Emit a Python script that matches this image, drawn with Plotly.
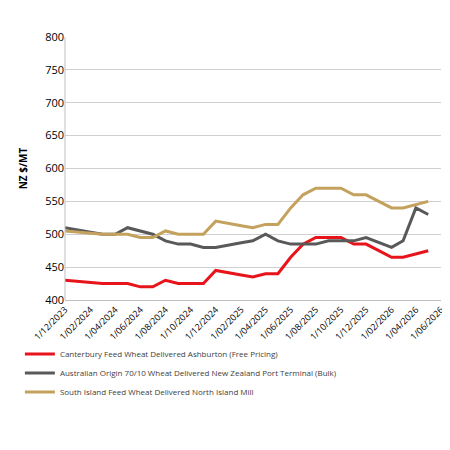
import pandas as pd
import plotly.graph_objs as go

dates = pd.date_range("2023-12-01", periods=30, freq="MS")

canterbury = [430, 428, 427, 425, 425, 425, 420, 420, 430, 425, 425, 425, 445, 442, 438,
              435, 440, 440, 465, 485, 495, 495, 495, 485, 485, 475, 465, 465, 470, 475]
australian = [510, 507, 503, 500, 500, 510, 505, 500, 490, 485, 485, 480, 480, 483, 487,
              490, 500, 490, 485, 485, 485, 490, 490, 490, 495, 487, 480, 490, 540, 530]
south_island = [505, 503, 502, 500, 500, 500, 495, 495, 505, 500, 500, 500, 520, 517, 513,
                510, 515, 515, 540, 560, 570, 570, 570, 560, 560, 550, 540, 540, 545, 550]

series = [
    ("Canterbury Feed Wheat Delivered Ashburton (Free Pricing)", canterbury, "#e8141b"),
    ("Australian Origin 70/10 Wheat Delivered New Zealand Port Terminal (Bulk)", australian, "#595959"),
    ("South Island Feed Wheat Delivered North Island Mill", south_island, "#c4a25e"),
]

tick_dates = pd.date_range("2023-12-01", "2026-06-01", freq="2MS")
tick_text = [f"{d.day}/{d.month:02d}/{d.year}" for d in tick_dates]

fig = go.Figure()
for name, values, color in series:
    fig.add_trace(go.Scatter(x=dates, y=values, mode="lines", name=name,
                             line=dict(color=color, width=3)))

fig.update_layout(
    width=450, height=450,
    template="plotly_white",
    font=dict(family="Open Sans, Arial", size=10, color="#404040"),
    margin=dict(l=51, r=12, t=29, b=158),
    showlegend=True,
    legend=dict(orientation="v", x=-0.12, y=-0.15, xanchor="left", yanchor="top",
                font=dict(size=8), tracegroupgap=22),
    yaxis=dict(title=dict(text="<b>NZ $/MT</b>", font=dict(size=10, color="#000")),
               range=[400, 800], dtick=50, gridcolor="#d0d0d0", showline=False,
               zeroline=False, ticks="", tickfont=dict(color="#000", size=11)),
    xaxis=dict(range=[dates[0], pd.Timestamp("2026-06-01")], tickvals=tick_dates,
               ticktext=tick_text, tickangle=-45, showgrid=False, showline=True,
               linecolor="#bfbfbf", tickfont=dict(color="#000", size=9)),
)
fig.add_shape(type="line", xref="paper", yref="paper", x0=0, x1=0, y0=0, y1=1,
              line=dict(color="#bfbfbf", width=1))

fig.write_html("out.html")
